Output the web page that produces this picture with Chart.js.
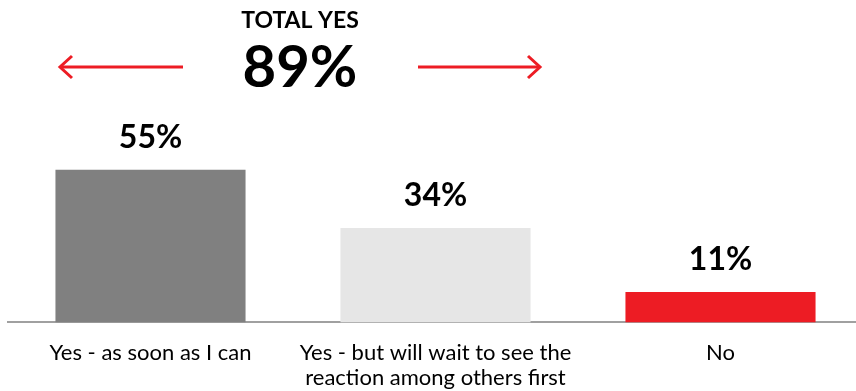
<!DOCTYPE html>
<html>
<head>
<meta charset="utf-8">
<script src="https://cdn.jsdelivr.net/npm/chart.js@4/dist/chart.umd.min.js"></script>
<style>
  html, body { margin: 0; padding: 0; background: #fff; overflow: hidden; }
  #wrap { position: relative; width: 863px; height: 409px; }
</style>
</head>
<body>
<div id="wrap"><canvas id="c"></canvas></div>
<script>
const categories = [
  'Yes - as soon as I can',
  ['Yes - but will wait to see the', 'reaction among others first'],
  'No'
];
const values = [55, 34, 11];
const barColors = ['#808080', '#e6e6e6', '#ed1c24'];
const headline = 'TOTAL YES';
const totalYes = values[0] + values[1];

const FONT = 'Lato, sans-serif';

const valueLabels = {
  id: 'valueLabels',
  afterDatasetsDraw(chart) {
    const ctx = chart.ctx;
    const meta = chart.getDatasetMeta(0);
    ctx.save();
    ctx.fillStyle = '#000';
    ctx.font = 'bold 32px ' + FONT;
    ctx.textAlign = 'center';
    ctx.textBaseline = 'middle';
    meta.data.forEach((bar, i) => {
      ctx.fillText(values[i] + '%', bar.x, bar.y - 32);
    });
    ctx.restore();
  }
};

const header = {
  id: 'header',
  afterDraw(chart) {
    const ctx = chart.ctx;
    const cx = 300;
    ctx.save();
    ctx.fillStyle = '#000';
    ctx.textAlign = 'center';
    ctx.textBaseline = 'middle';
    ctx.font = 'bold 23px ' + FONT;
    ctx.fillText(headline, cx, 21);
    ctx.font = 'bold 58px ' + FONT;
    ctx.fillText(totalYes + '%', cx, 68);

    // arrows either side of the total
    ctx.strokeStyle = '#ed1c24';
    ctx.lineWidth = 3;
    ctx.lineCap = 'butt';
    const y = 67;
    const arrow = (x0, x1) => {
      const dir = Math.sign(x1 - x0);
      ctx.beginPath();
      ctx.moveTo(x0, y);
      ctx.lineTo(x1, y);
      ctx.stroke();
      ctx.beginPath();
      ctx.moveTo(x1 - dir * 12, y - 11);
      ctx.lineTo(x1, y);
      ctx.lineTo(x1 - dir * 12, y + 11);
      ctx.stroke();
    };
    arrow(183, 60);
    arrow(418, 540);
    ctx.restore();
  }
};

new Chart(document.getElementById('c'), {
  type: 'bar',
  data: {
    labels: categories,
    datasets: [{
      data: values,
      backgroundColor: barColors,
      borderWidth: 0,
      barPercentage: 0.667,
      categoryPercentage: 1.0
    }]
  },
  options: {
    responsive: true,
    maintainAspectRatio: false,
    animation: false,
    layout: { padding: { left: 8, right: 0, top: 45, bottom: 0 } },
    plugins: {
      legend: { display: false },
      tooltip: { enabled: false },
      title: { display: false }
    },
    scales: {
      x: {
        grid: { display: false, drawTicks: false },
        border: { display: true, color: '#a0a0a0', width: 2 },
        ticks: {
          color: '#000',
          font: { family: FONT, size: 22, lineHeight: 1.15 },
          padding: 18,
          maxRotation: 0,
          autoSkip: false
        }
      },
      y: {
        display: false,
        min: 0,
        max: 100
      }
    }
  },
  plugins: [valueLabels, header]
});
</script>
</body>
</html>
